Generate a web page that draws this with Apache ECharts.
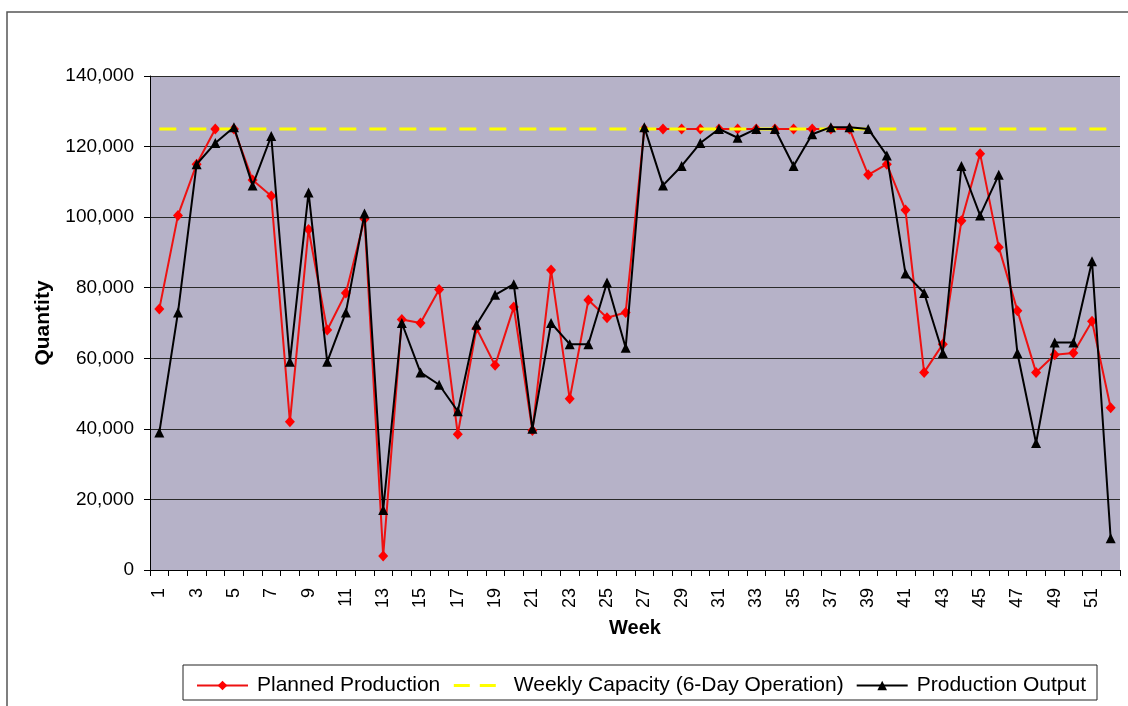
<!DOCTYPE html>
<html>
<head>
<meta charset="utf-8">
<script src="https://cdn.jsdelivr.net/npm/echarts@6/dist/echarts.min.js"></script>
<style>
html,body{margin:0;padding:0;background:#fff;}
#chart{width:1128px;height:706px;}
</style>
</head>
<body>
<div id="chart"></div>
<script>
var weeks = [];
for (var i = 1; i <= 52; i++) weeks.push(String(i));

var plannedProduction = [74000,100500,115000,125000,125000,110500,106000,42000,96500,68000,
  78500,99500,4000,71000,70000,79500,38500,68500,58000,74500,
  39500,85000,48500,76500,71500,73000,125000,125000,125000,125000,
  125000,125000,125000,125000,125000,125000,125000,125000,112000,115000,
  102000,56000,64000,99000,118000,91500,73500,56000,61000,61500,
  70500,46000];

var weeklyCapacity = [];
for (var j = 0; j < 52; j++) weeklyCapacity.push(125000);

var productionOutput = [39000,73000,115000,121000,125500,109000,123000,59000,107000,59000,
  73000,101000,17000,70000,56000,52500,45000,69500,78000,81000,
  40000,70000,64000,64000,81500,63000,125500,109000,114500,121000,
  125000,122500,125000,125000,114500,123500,125500,125500,125000,117500,
  84000,78500,61500,114500,100500,112000,61500,36000,64500,64500,
  87500,9000];

var chart = echarts.init(document.getElementById('chart'));
var font = 'Arial, "Liberation Sans", sans-serif';
chart.setOption({
  animation: false,
  backgroundColor: '#ffffff',
  textStyle: {fontFamily: font, color: '#000'},
  graphic: [
    {type: 'rect', z: -10, shape: {x: 7, y: 12, width: 1140, height: 720},
     style: {fill: 'none', stroke: '#555', lineWidth: 1.5}},
    {type: 'rect', z: 0, shape: {x: 183, y: 665, width: 914, height: 35},
     style: {fill: '#ffffff', stroke: '#222', lineWidth: 1}}
  ],
  grid: {left: 150, right: 8, top: 76, bottom: 136,
    show: true, backgroundColor: '#b6b2c8', borderWidth: 0},
  legend: {
    left: 191, top: 670, z: 10,
    itemWidth: 51, itemHeight: 12, itemGap: 12,
    textStyle: {fontSize: 21, fontFamily: font, color: '#000', padding: [0, 0, 0, 4]},
    data: [
      {name: 'Planned Production'},
      {name: 'Weekly Capacity (6-Day Operation)', itemStyle: {opacity: 0},
       lineStyle: {type: [16, 10], width: 3, color: '#ffff00'}},
      {name: 'Production Output'}
    ]
  },
  xAxis: {
    type: 'category', data: weeks, boundaryGap: true,
    name: 'Week', nameLocation: 'middle', nameGap: 48,
    nameTextStyle: {fontSize: 20, fontWeight: 'bold', color: '#000'},
    axisLine: {lineStyle: {color: '#000', width: 1}},
    axisTick: {show: true, interval: 0, length: 6, lineStyle: {color: '#000'}},
    axisLabel: {interval: 1, rotate: 90, fontSize: 18, color: '#000', margin: 18}
  },
  yAxis: {
    type: 'value', min: 0, max: 140000, interval: 20000,
    name: 'Quantity', nameLocation: 'middle', nameGap: 96, nameRotate: 90,
    nameTextStyle: {fontSize: 21, fontWeight: 'bold', color: '#000'},
    axisLine: {show: true, lineStyle: {color: '#000', width: 1}},
    axisTick: {show: true, length: 6, lineStyle: {color: '#000'}},
    splitLine: {show: true, lineStyle: {color: '#2a2a2a', width: 1}},
    axisLabel: {fontSize: 19, color: '#000', margin: 16,
      formatter: function (v) { return v.toLocaleString('en-US'); }}
  },
  series: [
    {name: 'Planned Production', type: 'line', data: plannedProduction,
     symbol: 'diamond', symbolSize: [10, 11],
     itemStyle: {color: '#ff0000'}, lineStyle: {color: '#ee1111', width: 2}, z: 2},
    {name: 'Weekly Capacity (6-Day Operation)', type: 'line', data: weeklyCapacity,
     symbol: 'none', showSymbol: false,
     itemStyle: {color: '#ffff00'},
     lineStyle: {color: '#ffff00', width: 3, type: [17, 13]}, z: 3},
    {name: 'Production Output', type: 'line', data: productionOutput,
     symbol: 'triangle', symbolSize: [10, 10],
     itemStyle: {color: '#000000'}, lineStyle: {color: '#000000', width: 2}, z: 4}
  ]
});
</script>
</body>
</html>
